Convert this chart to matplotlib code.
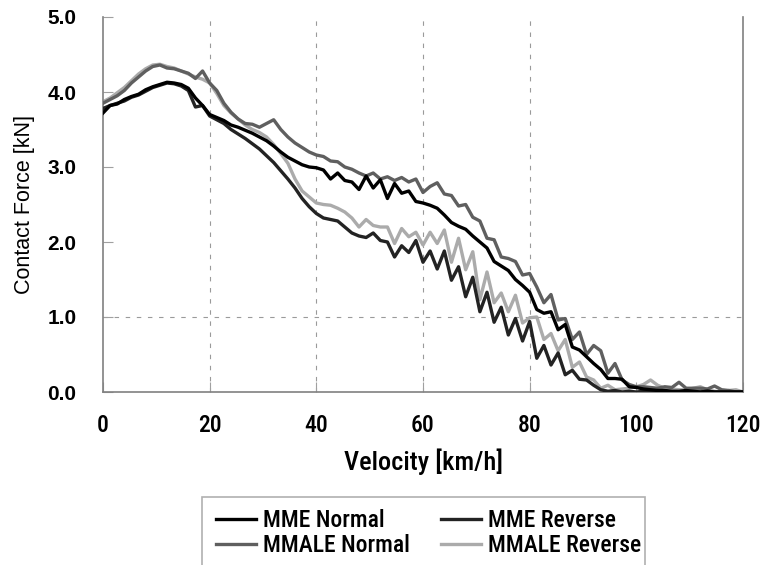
import numpy as np
import matplotlib

matplotlib.use("Agg")
import matplotlib.pyplot as plt
from matplotlib import font_manager
from matplotlib.patches import Rectangle

# === Data (contact force in kN, sampled every 4/3 km/h from 0 to 120) ===

velocity = np.linspace(0, 120, 91)

mme_normal = [
    3.72, 3.82, 3.84, 3.90, 3.94, 3.97, 4.03, 4.07, 4.10, 4.13, 4.12, 4.10, 4.05, 3.92, 3.82, 3.70,
    3.66, 3.62, 3.56, 3.53, 3.49, 3.45, 3.40, 3.35, 3.28, 3.20, 3.13, 3.08, 3.03, 3.00, 2.99,
    2.96, 2.84, 2.92, 2.82, 2.80, 2.70, 2.88, 2.72, 2.83, 2.58, 2.78, 2.65, 2.68, 2.54, 2.52,
    2.49, 2.45, 2.36, 2.26, 2.21, 2.17, 2.08, 2.00, 1.92, 1.74, 1.68, 1.62, 1.50, 1.42, 1.33,
    1.10, 1.05, 1.07, 0.83, 0.90, 0.60, 0.56, 0.47, 0.38, 0.30, 0.18, 0.18, 0.17, 0.07, 0.06,
    0.04, 0.03, 0.02, 0.02, 0.01, 0.01, 0.02, 0.01, 0.00, 0.01, 0.00, 0.00, 0.00, 0.00, 0.00,
]

mme_reverse = [
    3.78, 3.82, 3.85, 3.88, 3.93, 3.96, 4.01, 4.06, 4.09, 4.12, 4.11, 4.08, 4.02, 3.80, 3.82, 3.68,
    3.63, 3.58, 3.50, 3.44, 3.38, 3.31, 3.24, 3.15, 3.06, 2.95, 2.84, 2.72, 2.58, 2.47, 2.38,
    2.32, 2.30, 2.28, 2.20, 2.12, 2.08, 2.06, 2.12, 2.02, 2.00, 1.80, 1.95, 1.86, 2.02, 1.73,
    1.88, 1.64, 1.88, 1.49, 1.67, 1.27, 1.53, 1.07, 1.33, 0.93, 1.13, 0.76, 0.98, 0.68, 0.94,
    0.45, 0.62, 0.36, 0.52, 0.23, 0.29, 0.17, 0.16, 0.09, 0.03, 0.01, 0.02, 0.00, 0.01, 0.00,
    0.01, 0.00, 0.02, 0.01, 0.00, 0.00, 0.01, 0.00, 0.00, 0.01, 0.00, 0.00, 0.00, 0.00, 0.00,
]

mmale_normal = [
    3.85, 3.90, 3.95, 4.02, 4.12, 4.20, 4.28, 4.34, 4.36, 4.32, 4.31, 4.28, 4.25, 4.18, 4.28, 4.12,
    4.02, 3.85, 3.73, 3.64, 3.58, 3.57, 3.53, 3.58, 3.63, 3.50, 3.40, 3.32, 3.26, 3.20, 3.16,
    3.14, 3.08, 3.07, 3.00, 2.97, 2.92, 2.88, 2.92, 2.84, 2.87, 2.82, 2.86, 2.80, 2.84, 2.66,
    2.74, 2.79, 2.64, 2.62, 2.48, 2.50, 2.33, 2.28, 2.05, 2.03, 1.80, 1.78, 1.74, 1.56, 1.58,
    1.40, 1.19, 1.30, 0.96, 0.98, 0.70, 0.80, 0.50, 0.62, 0.55, 0.25, 0.38, 0.16, 0.10, 0.07,
    0.07, 0.06, 0.05, 0.07, 0.06, 0.13, 0.05, 0.05, 0.05, 0.04, 0.08, 0.03, 0.02, 0.00, 0.00,
]

mmale_reverse = [
    3.87, 3.92, 3.99, 4.06, 4.15, 4.24, 4.31, 4.36, 4.37, 4.34, 4.32, 4.28, 4.24, 4.20, 4.17, 4.12,
    3.98, 3.82, 3.72, 3.64, 3.56, 3.50, 3.46, 3.40, 3.30, 3.18, 3.05, 2.84, 2.68, 2.60, 2.52,
    2.50, 2.49, 2.45, 2.40, 2.32, 2.20, 2.30, 2.22, 2.20, 2.20, 1.98, 2.18, 2.07, 2.13, 1.96,
    2.13, 1.98, 2.16, 1.73, 2.05, 1.63, 1.87, 1.23, 1.60, 1.19, 1.32, 1.07, 1.29, 0.92, 0.99,
    1.00, 0.70, 0.78, 0.55, 0.70, 0.33, 0.40, 0.20, 0.16, 0.05, 0.09, 0.03, 0.04, 0.05, 0.07,
    0.10, 0.16, 0.09, 0.05, 0.04, 0.03, 0.03, 0.05, 0.07, 0.03, 0.01, 0.00, 0.02, 0.03, 0.00,
]

x_ticks = [0, 20, 40, 60, 80, 100, 120]
y_ticks = [0.0, 1.0, 2.0, 3.0, 4.0, 5.0]

# === Fonts: pick a narrow face if one is installed ===

installed = {f.name for f in font_manager.fontManager.ttflist}


def pick(*names):
    for n in names:
        if n in installed:
            return [n, "DejaVu Sans"]
    return ["DejaVu Sans"]


NARROW = pick("Liberation Sans Narrow", "Roboto Condensed", "Open Sans Condensed",
              "Noto Sans Condensed", "Liberation Sans")
ARIAL = pick("Liberation Sans", "Arimo")

# === Plot ===

fig = plt.figure(figsize=(7.64, 5.65), dpi=100)
ax = fig.add_axes([103 / 764, 1 - 392 / 565, 640 / 764, 375 / 565])

lw = 2.4
ax.plot(velocity, mme_normal, color="#000000", lw=lw, label="MME Normal", zorder=5)
ax.plot(velocity, mmale_normal, color="#5f5f5f", lw=lw, label="MMALE Normal", zorder=3)
ax.plot(velocity, mme_reverse, color="#232323", lw=lw, label="MME Reverse", zorder=4)
ax.plot(velocity, mmale_reverse, color="#ababab", lw=lw, label="MMALE Reverse", zorder=2)

ax.set_xlim(0, 120)
ax.set_ylim(0, 5)

# grid: dashed verticals at 20..80, single dashed horizontal at 1.0
for xv in x_ticks[1:5]:
    ax.axvline(xv, color="#9a9a9a", lw=0.8, ls=(0, (4, 6)), zorder=1)
ax.axhline(1.0, color="#9a9a9a", lw=0.8, ls=(0, (4, 6)), zorder=1)

for side in ["left", "bottom", "right"]:
    ax.spines[side].set_color("#808080")
    ax.spines[side].set_linewidth(1.2)
ax.spines["top"].set_visible(False)

ax.tick_params(axis="x", direction="in", length=7, color="#a0a0a0", pad=16)
ax.tick_params(axis="y", direction="in", length=7, color="#a0a0a0", pad=19)
ax.set_xticks(x_ticks)
ax.set_xticklabels([str(t) for t in x_ticks], family=NARROW, fontsize=17, fontweight="medium")
ax.set_yticks(y_ticks)
ax.set_yticklabels([f"{t:.1f}" for t in y_ticks], family=ARIAL, fontsize=15, fontweight="bold")

ax.set_xlabel("Velocity [km/h]", family=NARROW, fontsize=19, fontweight="medium", labelpad=8)
ax.set_ylabel("Contact Force [kN]", family=ARIAL, fontsize=15.5, labelpad=9)

# legend with a light frame running off the bottom edge
fig.patches.append(Rectangle((202 / 764, -0.05), 443 / 764, 0.05 + 68 / 565,
                             transform=fig.transFigure, fill=False,
                             edgecolor="#b0b0b0", lw=1.2))
fig.legend(loc="upper left", bbox_to_anchor=(203 / 764, 1 - 496 / 565), ncol=2,
           frameon=False, prop={"family": NARROW, "size": 17, "weight": "medium"},
           handlelength=1.7, handletextpad=0.3, columnspacing=1.3,
           labelspacing=0.1, borderpad=0.05)

fig.savefig("out.png", dpi=100)
